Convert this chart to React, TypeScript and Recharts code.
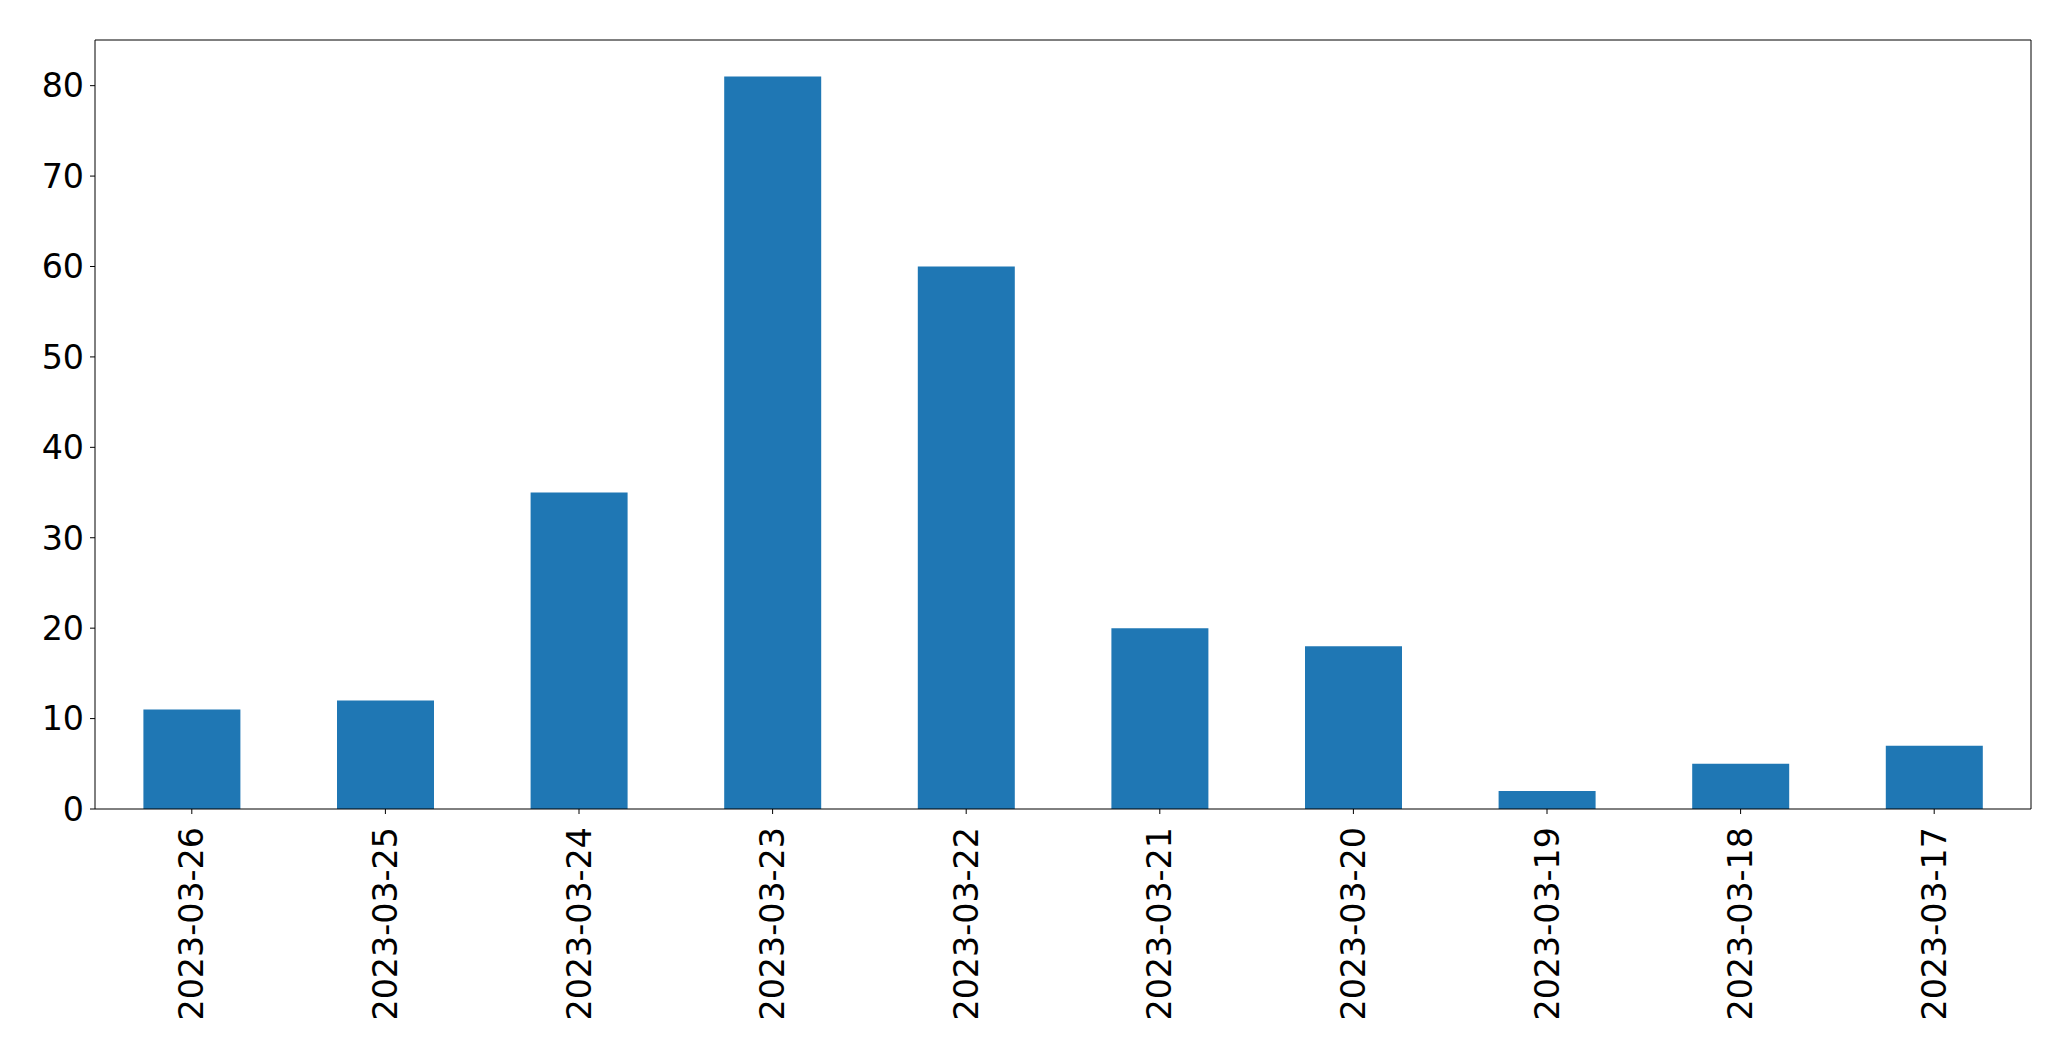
import React from 'react';
import { BarChart, Bar, XAxis, YAxis } from 'recharts';

const dates = [
    '2023-03-26', '2023-03-25', '2023-03-24', '2023-03-23', '2023-03-22',
    '2023-03-21', '2023-03-20', '2023-03-19', '2023-03-18', '2023-03-17',
];
const counts = [11, 12, 35, 81, 60, 20, 18, 2, 5, 7];
const yTicks = [0, 10, 20, 30, 40, 50, 60, 70, 80];

const FONT = '"DejaVu Sans", sans-serif';

function DateTick(props: any) {
    const { x, y, payload } = props;
    return (
        <text
            x={0}
            y={0}
            transform={`translate(${x},${y + 11}) rotate(-90)`}
            textAnchor="end"
            dominantBaseline="central"
            fontSize={33.3}
            fontFamily={FONT}
            fill="#000"
        >
            {payload.value}
        </text>
    );
}

export default function App() {
    const chartData = dates.map((d, i) => ({ date: d, count: counts[i] }));

    return (
        <div style={{ position: 'absolute', left: 0, top: 0, background: '#fff' }}>
            <BarChart
                width={2071}
                height={1061}
                data={chartData}
                margin={{ top: 39, right: 39, bottom: 0, left: 0 }}
                barCategoryGap="25%"
            >
                <XAxis
                    dataKey="date"
                    stroke="#000"
                    tickSize={5}
                    tickLine={{ stroke: '#000' }}
                    interval={0}
                    height={252}
                    tick={<DateTick />}
                />
                <XAxis
                    xAxisId="top"
                    orientation="top"
                    type="number"
                    domain={[0, 1]}
                    stroke="#000"
                    tick={false}
                    tickLine={false}
                    height={1}
                />
                <YAxis
                    domain={[0, 85.05]}
                    ticks={yTicks}
                    stroke="#000"
                    tickSize={5}
                    tickMargin={6}
                    width={95}
                    allowDataOverflow
                    tick={{ fontSize: 33.3, fontFamily: FONT, fill: '#000' }}
                />
                <YAxis
                    yAxisId="right"
                    orientation="right"
                    type="number"
                    domain={[0, 1]}
                    stroke="#000"
                    tick={false}
                    tickLine={false}
                    width={1}
                />
                <Bar dataKey="count" fill="#1f77b4" isAnimationActive={false} />
            </BarChart>
        </div>
    );
}
